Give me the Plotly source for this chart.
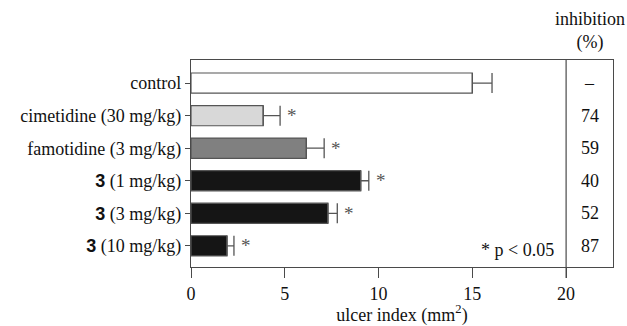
import plotly.graph_objects as go

B = '<span style="font-family:Liberation Sans;font-weight:bold">3</span>'
categories = ["control", "cimetidine (30 mg/kg)", "famotidine (3 mg/kg)",
              B + " (1 mg/kg)", B + " (3 mg/kg)", B + " (10 mg/kg)"]
ulcer_index = [15.0, 3.85, 6.15, 9.05, 7.3, 1.92]
sem = [1.05, 0.9, 0.95, 0.43, 0.5, 0.37]
inhibition = ["–", "74", "59", "40", "52", "87"]
significant = [False, True, True, True, True, True]
bar_colors = ["#ffffff", "#d8d8d8", "#808080", "#151515", "#151515", "#151515"]
xticks = [0, 5, 10, 15, 20]

FONT = "Liberation Serif"
FS = 18
AX = "#4a4a4a"
ypos = list(range(len(categories)))

fig = go.Figure()
fig.add_trace(go.Bar(
    x=ulcer_index, y=ypos, orientation="h", width=0.62,
    marker=dict(color=bar_colors, line=dict(color="#555555", width=1.2)),
    error_x=dict(type="data", array=sem, arrayminus=[0] * len(sem), symmetric=False,
                 color="#555555", thickness=1.3, width=10),
    showlegend=False, hoverinfo="skip",
))

anns = []
for i, (v, e, s) in enumerate(zip(ulcer_index, sem, significant)):
    if s:
        anns.append(dict(x=v + e, y=i, xref="x", yref="y", text="*", showarrow=False,
                         xanchor="left", yanchor="middle", xshift=5, yshift=0,
                         font=dict(family=FONT, size=19, color="#555555")))
for i, t in enumerate(inhibition):
    anns.append(dict(x=21.25, y=i, xref="x", yref="y", text=t, showarrow=False,
                     xanchor="center", yanchor="middle",
                     font=dict(family=FONT, size=FS, color="#111111")))
anns.append(dict(x=19.45, y=len(categories) - 1, xref="x", yref="y", text="* p < 0.05",
                 showarrow=False, xanchor="right", yanchor="middle", yshift=-4,
                 font=dict(family=FONT, size=FS, color="#111111")))
anns.append(dict(x=21.3, y=1, xref="x", yref="paper", yshift=5, text="inhibition<br>(%)",
                 showarrow=False, xanchor="center", yanchor="bottom", align="center",
                 font=dict(family=FONT, size=FS, color="#111111")))

fig.update_layout(
    width=627, height=326,
    margin=dict(l=191, r=14, t=60, b=59),
    paper_bgcolor="white", plot_bgcolor="white",
    font=dict(family=FONT, size=FS, color="#111111"),
    annotations=anns,
    shapes=[dict(type="line", xref="x", yref="paper", x0=20, x1=20, y0=-0.053, y1=1,
                 line=dict(color=AX, width=1.2))],
    xaxis=dict(range=[0, 22.5], tickvals=xticks, ticks="outside", ticklen=10,
               tickcolor=AX, tickwidth=1, showline=True, linecolor=AX, linewidth=1.2,
               mirror=True, showgrid=False, zeroline=False, automargin=False,
               title=dict(text="ulcer index (mm<sup>2</sup>)", standoff=2,
                          font=dict(family=FONT, size=FS))),
    yaxis=dict(range=[len(categories) - 0.35, -0.71], tickvals=ypos, ticktext=categories,
               ticks="outside", ticklen=5, tickcolor=AX, showline=True, linecolor=AX,
               linewidth=1.2, mirror=True, showgrid=False, zeroline=False, automargin=False),
)
fig.write_html("out.html", config={"displayModeBar": False},
               post_script="document.body.style.margin='0';")
